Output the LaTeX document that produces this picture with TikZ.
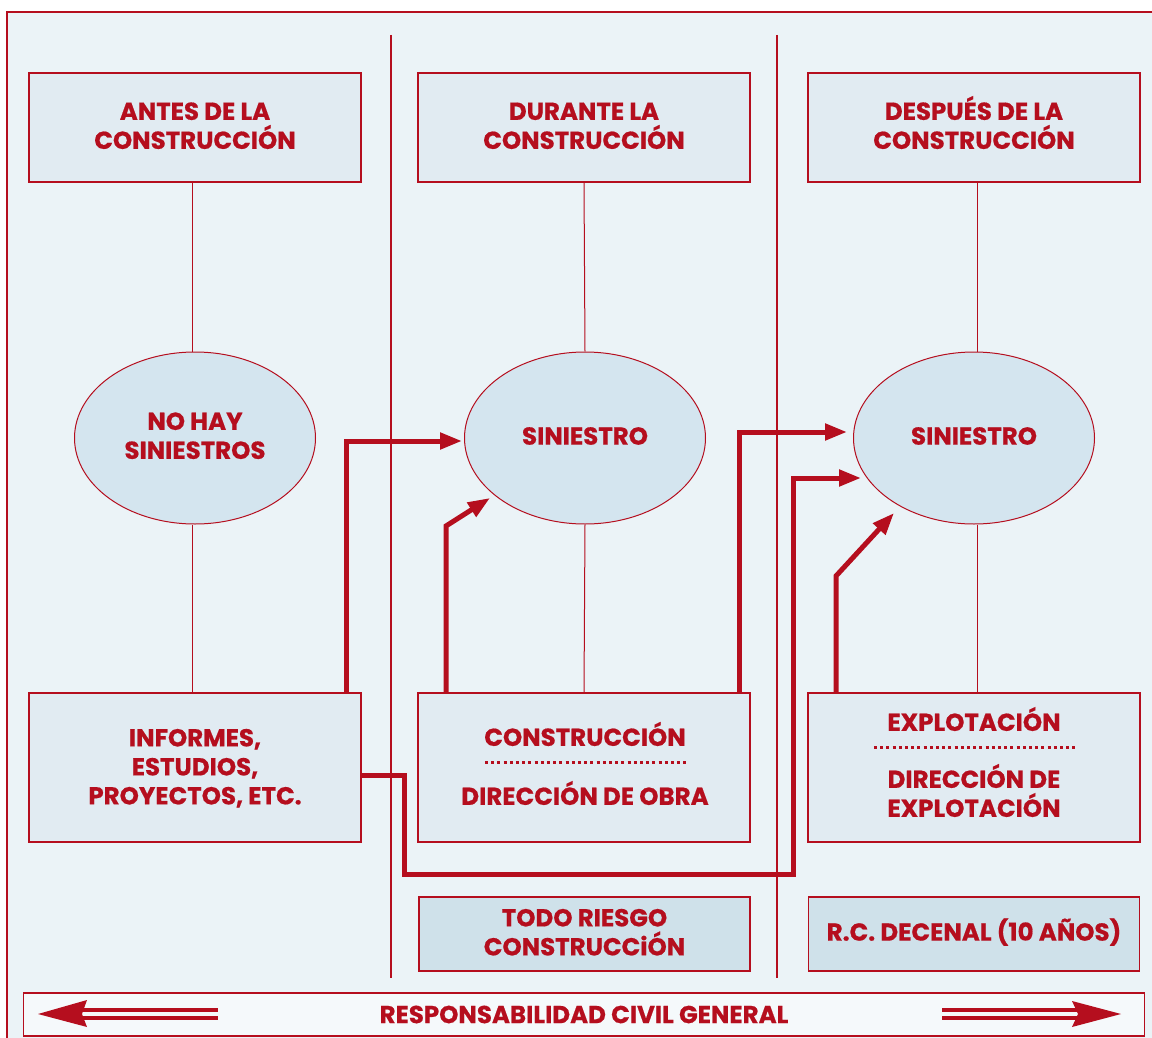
\documentclass[tikz,border=0pt]{standalone}
\usepackage{fontspec}
\setmainfont{Poppins}[BoldFeatures={FakeBold=0.6}]
\usetikzlibrary{shapes.geometric,arrows.meta}
\definecolor{rd}{HTML}{B50E1E}
\definecolor{bg}{HTML}{EBF3F7}
\definecolor{boxfill}{HTML}{E1EBF2}
\definecolor{ellfill}{HTML}{D4E5EF}
\definecolor{badgefill}{HTML}{CFE1EA}
\definecolor{barfill}{HTML}{F5F9FB}
\newcommand{\hp}{\vphantom{ÉÓ}}
\tikzset{
  lbl/.style={font=\fontsize{24.5}{29}\selectfont\bfseries, text=rd, align=center},
  stagebox/.style={draw=rd, line width=1.3pt, fill=boxfill, minimum width=332pt, minimum height=109pt, inner sep=0pt},
  lowbox/.style={draw=rd, line width=1.3pt, fill=boxfill, minimum width=332pt, minimum height=149pt, inner sep=0pt},
  badge/.style={draw=rd, line width=1.3pt, fill=badgefill, minimum width=331pt, minimum height=74pt, inner sep=0pt},
  ell/.style={ellipse, draw=rd, line width=1pt, fill=ellfill, minimum width=241pt, minimum height=172pt, inner sep=0pt},
  thin/.style={draw=rd, line width=1pt},
  divider/.style={draw=rd, line width=2pt},
  thickarr/.style={draw=rd, line width=5pt, -{Triangle[length=22pt,width=16pt]}},
  dotline/.style={draw=rd, line width=3pt, dash pattern=on 3pt off 3.2pt},
}
\begin{document}
\begin{tikzpicture}[x=1pt,y=-1pt]
\useasboundingbox (0,0) rectangle (1152,1038);
\clip (0,0) rectangle (1152,1038);
\fill[white] (0,0) rectangle (1152,1038);
\draw[draw=rd, line width=1.5pt, fill=bg] (7,12) rectangle (1170,1060);
% dividers
\draw[divider] (391,35) -- (391,978);
\draw[divider] (777,35) -- (777,978);
% top boxes
\node[stagebox] (t1) at (195,127.5) {};
\node[stagebox] (t2) at (584,127.5) {};
\node[stagebox] (t3) at (974,127.5) {};
\node[lbl] (t1t) at (195,122.5) {\hp ANTES DE LA\\CONSTRUCCIÓN};
\node[lbl] (t2t) at (584,122.5) {\hp DURANTE LA\\CONSTRUCCIÓN};
\node[lbl] (t3t) at (974,122.5) {\hp DESPUÉS DE LA\\CONSTRUCCIÓN};
% ellipses
\node[ell] (e1) at (195,438) {};
\node[ell] (e2) at (585,438) {};
\node[ell] (e3) at (974,438) {};
\node[lbl] (e1t) at (195,432.5) {\hp NO HAY\\SINIESTROS};
\node[lbl] (e2t) at (585,436) {SINIESTRO};
\node[lbl] (e3t) at (974,436) {SINIESTRO};
% bottom boxes
\node[lowbox] (b1) at (195,767.5) {};
\node[lowbox] (b2) at (584,767.5) {};
\node[lowbox] (b3) at (974,767.5) {};
\node[lbl] (b1t) at (195,765) {\hp INFORMES,\\ESTUDIOS,\\PROYECTOS, ETC.};
\node[lbl] (b2a) at (585,734) {\hp CONSTRUCCIÓN};
\node[lbl] (b2b) at (585,793) {\hp DIRECCIÓN DE OBRA};
\node[lbl] (b3a) at (974,719) {\hp EXPLOTACIÓN};
\node[lbl] (b3b) at (974,790.5) {\hp DIRECCIÓN DE\\EXPLOTACIÓN};
\coordinate (d2l) at (485,762); \coordinate (d2r) at (686,762);
\coordinate (d3l) at (874,747); \coordinate (d3r) at (1075,747);
\draw[dotline] (d2l) -- (d2r);
\draw[dotline] (d3l) -- (d3r);
% badges
\node[badge] (r1) at (584.5,934) {};
\node[badge] (r2) at (974,934) {};
\node[lbl] (r1t) at (584.5,929) {\hp TODO RIESGO\\CONSTRUCCiÓN};
\node[lbl] (r2t) at (974,932) {R.C. DECENAL (10 AÑOS)};
% thin connectors
\draw[thin] (t1.south -| 192,0) -- (e1.north -| 192,0);
\draw[thin] (e1.south -| 192,0) -- (b1.north -| 192,0);
\draw[thin] (t2.south) -- (e2.north);
\draw[thin] (e2.south) -- (b2.north);
\draw[thin] (t3.south -| 977,0) -- (e3.north -| 977,0);
\draw[thin] (e3.south -| 977,0) -- (b3.north -| 977,0);
% thick arrows
\coordinate (a1s) at (346,692);
\coordinate (a1e) at (462,441);
\draw[thickarr] (a1s) |- (a1e);
\coordinate (a2s) at (446,692);
\coordinate (a2k) at (446,526);
\coordinate (a2e) at (490,498);
\draw[thickarr] (a2s) -- (a2k) -- (a2e);
\coordinate (a3s) at (739,692);
\coordinate (a3e) at (847,432);
\draw[thickarr] (a3s) |- (a3e);
\coordinate (a4s) at (361,775);
\coordinate (a4k1) at (404,874);
\coordinate (a4k2) at (793,478);
\coordinate (a4e) at (861,478);
\draw[thickarr] (a4s) -| (a4k1) -| (a4k2) -- (a4e);
\coordinate (a5s) at (836,692);
\coordinate (a5k) at (836,576);
\coordinate (a5e) at (894,513);
\draw[thickarr] (a5s) -- (a5k) -- (a5e);
% bottom bar
\node[draw=rd, line width=1.3pt, fill=barfill, minimum width=1121pt, minimum height=43pt, inner sep=0pt, lbl] (bar) at (584,1014.5) {RESPONSABILIDAD CIVIL GENERAL};
\draw[draw=rd, line width=3.2pt] (82,1010) -- (218,1010);
\draw[draw=rd, line width=3.2pt] (82,1018) -- (218,1018);
\fill[rd] (38,1014) -- (87,1000) -- (82,1014) -- (87,1027) -- cycle;
\draw[draw=rd, line width=3.2pt] (942,1010) -- (1080,1010);
\draw[draw=rd, line width=3.2pt] (942,1018) -- (1080,1018);
\fill[rd] (1121,1014) -- (1072,1001) -- (1078,1014) -- (1072,1027) -- cycle;
\end{tikzpicture}
\end{document}
